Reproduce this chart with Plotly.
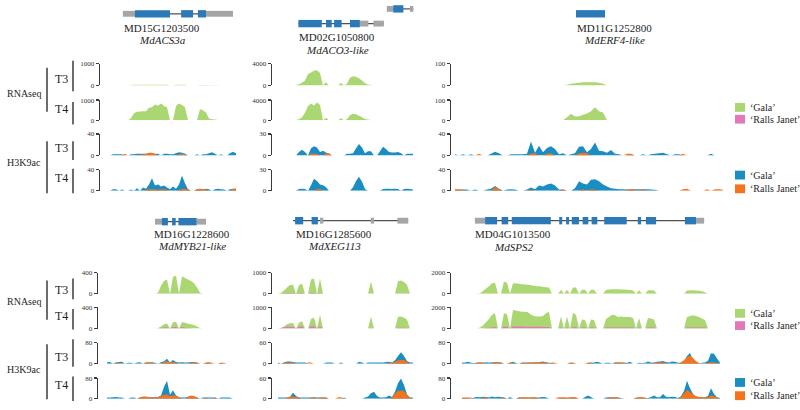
import plotly.graph_objects as go

W, H = 800, 410
SERIF = "'Liberation Serif', 'Times New Roman', Times, serif"
GREEN, PINK = "#abd772", "#e278b8"
BLUE, ORANGE = "#1a8ec2", "#f7731b"
CDS_BLUE, UTR_GRAY, INTRON_GRAY = "#2b79b7", "#a5a5a5", "#505050"
INK = "#1e1e1e"

# ===================== DATA (coverage per equal-width genomic bin) =====================
# ---- MD15G1203500  MdACS3a ----
acs_rna_t3_gala = [0,0,0,0,0,0,0,5,25,25,25,25,25,25,28,30,30,30,28,25,0,0,25,25,25,25,0,0,0,0,20,20,20,15,10,8,5,0,0,0,0,0,0]
acs_rna_t4_gala = [0,0,0,0,0,0,0,100,350,420,430,440,450,620,650,780,720,830,700,650,0,0,700,830,760,650,0,0,0,0,560,500,380,80,50,30,10,0,0,0,0,0,0]
acs_h3_t3_gala = [0,2.5,2.5,2.5,2.5,0,0,2.5,2.5,3,3,3,3,3,3,3,3,0,3,3,2.5,2.5,4,6,5,3,0,0,0,2.5,0,2.5,2.5,4,6,3,0,2.5,0,0,4,7,4]
acs_h3_t3_rj = [0,0,0,0,0,3,0,0,0,0,2,2,3,5,5,3,0,0,0,0,0,0,0,2,3,2,0,0,0,0,0,0,0,0,0,0,0,0,0,0,0,0,0]
acs_h3_t4_gala = [0,3,3,0,2.5,0,0,2.5,0,5,0,6,4,12,24,10,12,8,10,6,3,8,4,12,29,14,3,0,0,3,4,3,4,3,0,3,4,3,2.5,0,3,4,3]
acs_h3_t4_rj = [0,0,0,0,0,0,0,0,0,0,0,0,2,3,3,3,2,3,3,2,0,0,0,2,3,4,3,0,0,3,4,3,3,0,0,0,0,0,0,0,0,4,5]
acs_exon_start = [4.3, 8.3, 23.7, 29.3, 32.0]
acs_exon_end = [8.3, 20.0, 27.7, 32.0, 41.0]
acs_exon_kind = ["utr", "cds", "cds", "cds", "utr"]

# ---- MD02G1050800  MdACO3-like ----
aco_rna_t3_gala = [50,200,500,900,2100,2400,2700,2800,2300,0,600,0,0,0,0,500,0,300,1400,1700,1600,1300,900,400,150,60,0,0,0,0,0,0,0,0,0,0,0,0,0,0]
aco_rna_t4_gala = [50,200,600,1500,2800,3300,2900,3500,3000,0,500,0,0,0,0,400,0,200,1000,1300,1200,900,600,250,120,50,0,0,0,0,0,0,0,0,0,0,0,0,0,0]
aco_h3_t3_gala = [0,5,8,5,0,10,13,11,5,6.5,4,2.5,0,0,0,0,0,2.5,2.5,3,10,16,11,3,6,6,0,0,6,12,9,5,4,4,5,3,0,2.5,2.5,2.5]
aco_h3_t3_rj = [0,0,0,0,0,2.5,2.5,2.5,0,0,3,3,0,0,0,0,0,0,0,0,0,0,0,0,0,0,0,0,0,0,0,0,0,0,0,0,0,0,0,0]
aco_h3_t4_gala = [0,2.5,3,2.5,0,8,17,14,9,8,5,0,0,0,0,0,0,0,0,5,14,20,13,2.5,0,0,0,0,0,2.5,3,3,2.5,3,2.5,0,2.5,3,2.5,2]
aco_h3_t4_rj = [0,0,0,0,0,0,0,2.5,2.5,0,0,0,0,0,0,0,0,0,0,0,0,0,0,0,0,0,0,0,0,0,0,0,0,0,0,0,0,0,0,0]
aco_exon_start = [0.8, 10.0, 12.7, 18.0, 21.3, 25.8]
aco_exon_end = [8.6, 11.9, 15.2, 21.3, 24.1, 29.3]
aco_exon_kind = ["cds", "cds", "cds", "cds", "utr", "utr"]
aco2_exon_start = [30.3, 32.4, 38.0]
aco2_exon_end = [32.4, 35.8, 39.1]
aco2_exon_kind = ["utr", "cds", "utr"]

# ---- MD11G1252800  MdERF4-like ----
erf_rna_t3_gala = [0,0,0,0,0,0,0,0,0,0,0,0,0,0,0,0,0,0,0,0,0,0,0,0,0,0,0,0,
                   3,7,10,12,14,15,15,14,12,7,0,0,
                   0,0,0,0,0,0,0,0,0,0,0,0,0,0,0,0,0,0,0,0,0,0,0,0,0,0,0,0]
erf_rna_t4_gala = [0,0,0,0,0,0,0,0,0,0,0,0,0,0,0,0,0,0,0,0,0,0,0,0,0,0,0,0,
                   15,32,18,20,27,33,45,65,45,38,0,0,
                   0,0,0,0,0,0,0,0,0,0,0,0,0,0,0,0,0,0,0,0,0,0,0,0,0,0,0,0]
erf_h3_t3_gala = [2.5,0,2.5,0,2.5,0,0,0,0,3, 7,4,0,0,2.5,2.5,2.5,2.5,3,26, 5,18,6,14,17,12,2.5,4,0,2.5,
                  4,16,17,6,12,24,9,8,5,10, 3,2.5,0,0,2.5,0,0,2.5,0,2.5, 3,4,5,2.5,0,2.5,2.5,0,0,0, 0,0,0,0,3,0,0,0]
erf_h3_t3_rj = [0,0,0,0,0,0,3,0,0,0, 0,0,0,0,0,0,0,0,0,3, 4,0,0,3,4,0,0,0,0,0,
                0,4,5,4,0,0,0,0,0,0, 0,0,0,3,3,0,0,0,0,0, 0,0,0,0,0,0,0,3,0,0, 0,0,0,0,0,0,0,0]
erf_h3_t4_gala = [2,2,2.5,2.5,0,2.5,0,0,2.5,4, 9,4,0,2.5,3,2.5,0,0,2.5,6, 3,10,8,12,14,10,2.5,2.5,0,0,
                  5,18,14,12,21,22,18,12,8,5, 4,3,3,2.5,3,3,3,3,3,2.5, 2,0,0,0,0,0,0,0,0,0, 0,0,0,0,0,0,0,0]
erf_h3_t4_rj = [3,3,2,0,0,0,0,0,0,0, 7,3,0,0,0,0,0,0,0,2, 0,0,0,0,0,0,0,3,0,0,
                0,0,3,0,3,2,0,0,0,0, 0,0,0,2,3,2,0,3,0,0, 0,0,0,0,0,0,0,3,4,0, 0,0,0,3,0,3,3,2]
erf_exon_start = [30.25]
erf_exon_end = [37.5]
erf_exon_kind = ["cds"]

# ---- MD16G1228600  MdMYB21-like ----
myb_rna_t3_gala = [0,0,0,0,0,0,0,0,0,0,0,0,0,0,0,0,0,20,150,240,270,0,320,340,0,330,300,270,240,200,120,20,0,0,0,0,0,0,0,0,0,0,0]
myb_rna_t4_gala = [0,0,0,0,0,0,0,0,0,0,0,0,0,0,0,0,0,10,40,80,95,0,120,130,0,125,110,90,80,65,40,10,0,0,0,0,0,0,0,0,0,0,0]
myb_rna_t4_rj = [0,0,0,0,0,0,0,0,0,0,0,0,0,0,0,0,0,0,10,20,25,0,30,30,0,30,15,10,5,0,0,0,0,0,0,0,0,0,0,0,0,0,0]
myb_h3_t3_gala = [6,7,0,5,7,8,0,4,4,0,5,6,0,5,5,6,4,0,6,10,19,5,15,7,5,6,5,5,7,7,5,0,0,4,4,0,0,0,4,0,0,0,0]
myb_h3_t3_rj = [0,0,0,5,4,0,0,0,0,0,0,0,0,6,6,5,0,0,0,8,11,6,7,5,0,0,0,0,5,6,4,0,0,5,6,4,0,0,4,4,0,0,0]
myb_h3_t4_gala = [4,4,5,6,4,4,0,0,4,4,0,4,5,5,4,5,5,6,12,45,70,15,33,12,5,4,4,6,10,8,4,0,4,4,4,4,4,0,4,4,4,4,0]
myb_h3_t4_rj = [0,0,0,0,0,0,0,0,0,0,0,5,8,8,6,4,4,5,10,15,16,10,12,12,5,0,0,8,12,10,4,0,0,4,0,0,4,0,0,0,0,0,0]
myb_exon_start = [16.0, 18.3, 21.7, 23.8, 29.9]
myb_exon_end = [18.3, 20.3, 22.9, 29.9, 33.0]
myb_exon_kind = ["utr", "cds", "cds", "cds", "utr"]

# ---- MD16G1285600  MdXEG113 ----
xeg_rna_t3_gala = [0,50,150,300,420,430,0,400,480,0,0,680,720,0,720,0,
                   0,0,0,0,0,0,0,0,0,0,0,0,0,0,0, 580,0, 0,0,0,0,0,0,0, 600,630,560,430,0,0]
xeg_rna_t3_rj = [0,0,20,30,40,40,0,30,30,0,0,40,40,0,30,0,
                 0,0,0,0,0,0,0,0,0,0,0,0,0,0,0, 0,0, 0,0,0,0,0,0,0, 0,0,0,0,0,0]
xeg_rna_t4_gala = [0,30,100,200,250,260,0,280,350,0,0,450,520,0,650,0,
                   0,0,0,0,0,0,0,0,0,0,0,0,0,0,0, 570,0, 0,0,0,0,0,0,0, 560,570,520,420,0,0]
xeg_rna_t4_rj = [0,20,60,80,90,90,0,90,100,0,0,110,110,0,100,0,
                 0,0,0,0,0,0,0,0,0,0,0,0,0,0,0, 30,0, 0,0,0,0,0,0,0, 40,40,40,30,0,0]
xeg_h3_t3_gala = [3.5,0,4,7,7,5,4,3.5,4,3.5,0,0,0,0,0,0,3.5,4,3.5,0,0,3.5,0,0,0,0,0,6,3.5,0,4,4,4,4,4,4,5,6,4,10,22,33,22,8,3.5,3.5]
xeg_h3_t3_rj = [0,0,3.5,3.5,3.5,3.5,0,0,0,0,3.5,3.5, 0,0,0,0,0,0,0,0,0,0,0,0,0,0,0,0,0,0,0,0,0,0,0,0,0, 3.5,3.5,6,10,11,11,6,0,0]
xeg_h3_t4_gala = [3,3.5,3.5,3.5,5,17,8,3.5,3.5,3.5,3,3.5,4,3.5,3,3,3,0,0,0,0,0,3,0,0,0,0,0,0,3,6,16,20,8,3.5,3,4,9,5,20,45,59,40,12,3.5,3]
xeg_h3_t4_rj = [0,0,0,3.5,6,6,5,3.5,0,0,0,3.5,3.5,0,3.5,3.5,3.5,0,0,0,4,4, 0,0,0,0,0,0,0,0,0,0,0,0,0,0,0,0, 4,15,22,24,22,10,3,0]
xeg_exon_start = [5.7, 11.2, 14.0, 30.9, 39.8]
xeg_exon_end = [8.4, 13.3, 15.1, 32.0, 43.4]
xeg_exon_kind = ["cds", "cds", "utr", "utr", "utr"]
xeg_span = [5.0, 43.4]

# ---- MD04G1013500  MdSPS2 ----
sps_rna_t3_gala = [0,0,0,0,0,0, 50,250,500,700,1000,1050, 0,0, 1150,1050, 0,
                   1000,980,950,900,880,850,800,760,720,700,650,620,600, 0,0,0, 380, 0, 380, 0, 600,580, 0,
                   380,380, 0, 380,370, 0,0,0, 350,400,420,420,420,400,400,380,360,300, 0, 320, 0,0, 320,320,300,
                   0,0,0,0,0,0,0,0,0,0, 300,320,320,300,280,230,150, 0,0,0,0,0]
sps_rna_t4_gala = [0,0,0,0,0,0, 100,300,600,900,1300,1450, 0,0, 1450,1350, 0,
                   1750,1700,1650,1600,1600,1550,1300,1200,1150,1150,1200,1450,1600, 0,0,0, 1150, 0, 1150, 0, 1500,1300, 0,
                   850,800, 0, 850,800, 0,0,0, 900,1100,1300,1250,1100,1150,1100,1100,1100,1000, 0, 1000, 0,0, 1000,950,850,
                   0,0,0,0,0,0,0,0,0,0, 1100,1200,1250,1200,1100,950,800, 0,0,0,0,0]
sps_rna_t4_rj = [0,0,0,0,0,0, 0,0,50,80,100,150, 0,0, 180,180, 0,
                 200,200,190,190,180,180,170,170,160,160,150,150,150, 0,0,0, 100, 0, 100, 0, 120,120, 0,
                 100,100, 0, 100,100, 0,0,0, 110,110,110,110,110,110,110,110,110,110, 0, 100, 0,0, 100,100,100,
                 0,0,0,0,0,0,0,0,0,0, 100,100,100,100,100,100,100, 0,0,0,0,0]
sps_h3_t3_gala = [4,5,8,4,3,4,5,4,6,5, 5,7,6,5,0,0,4,8,3,0, 5,4,5,5,5,5,7,9,6,4, 3,0,0,0,0,0,3,3,0,0,
                  0,0,3,4,5,8,5,0,4,4, 0,5,5,5,4,4,8,0,0,4, 3,4,9,5,4,8,9,11,7,5, 9,8,4,4,10,30,41,15,5,0,
                  4,5,12,40,38,20,4]
sps_h3_t3_rj = [4,0,0,0,0,5,6,5,0,0, 5,6,6,5,0,0,5,4,0,0, 4,5,4,5,6,6,6,6,5,0, 5,4,0,0,0,0,5,5,0,0,
                0,0,5,5,0,0,0,0,0,0, 0,5,5,5,5,0,0,0,0,0, 0,0,0,0,5,5,6,5,5,0, 0,0,0,6,14,25,32,22,10,4,
                0,0,4,6,6,4,0]
sps_h3_t4_gala = [3,3,3,0,4,6,5,7,6,4, 8,5,7,6,4,0,6,0,0,4, 4,4,3,4,4,3,5,6,5,0, 0,0,0,3,3,3,3,3,3,0,
                  0,6,12,6,0,0,0,0,4,5, 4,5,4,3,0,0,0,0,3,4, 4,3,3,6,12,5,5,18,7,5, 7,6,3,9,30,70,40,18,6,5,
                  4,5,10,40,18,5,3]
sps_h3_t4_rj = [4,4,4,4,0,0,0,4,4,0, 0,0,0,0,4,0,0,0,0,5, 4,5,5,4,5,5,0,0,0,0, 0,0,5,5,5,4,5,6,5,0,
                0,0,0,0,0,0,0,0,0,4, 5,5,4,0,0,0,0,0,4,5, 5,4,0,0,0,0,0,0,0,0, 0,0,0,8,20,34,26,16,10,6,
                5,5,6,12,10,5,0]
sps_exon_start = [4.3, 7.7, 13.2, 16.6, 32.4, 34.7, 36.6, 40.2, 43.2, 47.4, 58.6, 61.3, 74.3, 78.0]
sps_exon_end = [7.7, 11.7, 15.4, 29.6, 33.4, 35.7, 39.0, 42.1, 45.1, 54.9, 59.7, 64.7, 78.0, 80.7]
sps_exon_kind = ["utr"] + ["cds"] * 12 + ["utr"]

rna_ticks = {"acs": 1000, "aco": 4000, "erf": 100, "myb": 400, "xeg": 1000, "sps": 2000}
h3_ticks = {"acs": 40, "aco": 30, "erf": 40, "myb": 80, "xeg": 60, "sps": 80}

loci = [
    dict(key="acs", gid="MD15G1203500", name="MdACS3a",
         tracks=[(acs_rna_t3_gala, None), (acs_rna_t4_gala, None), (acs_h3_t3_gala, acs_h3_t3_rj), (acs_h3_t4_gala, acs_h3_t4_rj)],
         models=[(acs_exon_start, acs_exon_end, acs_exon_kind, None)]),
    dict(key="aco", gid="MD02G1050800", name="MdACO3-like",
         tracks=[(aco_rna_t3_gala, None), (aco_rna_t4_gala, None), (aco_h3_t3_gala, aco_h3_t3_rj), (aco_h3_t4_gala, aco_h3_t4_rj)],
         models=[(aco_exon_start, aco_exon_end, aco_exon_kind, None), (aco2_exon_start, aco2_exon_end, aco2_exon_kind, None)]),
    dict(key="erf", gid="MD11G1252800", name="MdERF4-like",
         tracks=[(erf_rna_t3_gala, None), (erf_rna_t4_gala, None), (erf_h3_t3_gala, erf_h3_t3_rj), (erf_h3_t4_gala, erf_h3_t4_rj)],
         models=[(erf_exon_start, erf_exon_end, erf_exon_kind, None)]),
    dict(key="myb", gid="MD16G1228600", name="MdMYB21-like",
         tracks=[(myb_rna_t3_gala, None), (myb_rna_t4_gala, myb_rna_t4_rj), (myb_h3_t3_gala, myb_h3_t3_rj), (myb_h3_t4_gala, myb_h3_t4_rj)],
         models=[(myb_exon_start, myb_exon_end, myb_exon_kind, None)]),
    dict(key="xeg", gid="MD16G1285600", name="MdXEG113",
         tracks=[(xeg_rna_t3_gala, xeg_rna_t3_rj), (xeg_rna_t4_gala, xeg_rna_t4_rj), (xeg_h3_t3_gala, xeg_h3_t3_rj), (xeg_h3_t4_gala, xeg_h3_t4_rj)],
         models=[(xeg_exon_start, xeg_exon_end, xeg_exon_kind, xeg_span)]),
    dict(key="sps", gid="MD04G1013500", name="MdSPS2",
         tracks=[(sps_rna_t3_gala, None), (sps_rna_t4_gala, sps_rna_t4_rj), (sps_h3_t3_gala, sps_h3_t3_rj), (sps_h3_t4_gala, sps_h3_t4_rj)],
         models=[(sps_exon_start, sps_exon_end, sps_exon_kind, None)]),
]

# ===================== LAYOUT (pixels) =====================
TOP_ROWS = [(61, 83), (98, 118.5), (132.5, 154.5), (169, 190.5)]
BOT_ROWS = [(274, 295.5), (309.5, 331), (345.5, 367), (381.5, 402.5)]
geom = {
    "acs": dict(axis=100, right=240, start=110, step=3, rows=TOP_ROWS, gene_y=[10, None], lab=(162, 24.5, 37)),
    "aco": dict(axis=272, right=416, start=296, step=3, rows=TOP_ROWS, gene_y=[20, 5], lab=(337, 34, 47)),
    "erf": dict(axis=451, right=725, start=455, step=4, rows=TOP_ROWS, gene_y=[10, None], lab=(614, 24.5, 37)),
    "myb": dict(axis=98, right=236, start=107, step=3, rows=BOT_ROWS, gene_y=[222, None], lab=(192, 234.5, 247)),
    "xeg": dict(axis=272, right=416, start=278, step=3, rows=BOT_ROWS, gene_y=[221, None], lab=(334, 234.5, 247)),
    "sps": dict(axis=451, right=723, start=462, step=3, rows=BOT_ROWS, gene_y=[221, None], lab=(513, 235, 247.5)),
}

def px(x):
    return x / W

def py(y):
    return 1 - y / H

fig = go.Figure()
layout = {}
shapes = []
annotations = []
n = 0
for locus in loci:
    g = geom[locus["key"]]
    first_x = None
    for ti, ((main, other), (top, zero)) in enumerate(zip(locus["tracks"], g["rows"])):
        n += 1
        xa = "x" if n == 1 else f"x{n}"
        ya = "y" if n == 1 else f"y{n}"
        if first_x is None:
            first_x = xa
        is_rna = ti < 2
        ymax = rna_ticks[locus["key"]] if is_rna else h3_ticks[locus["key"]]
        c1, c2 = (GREEN, PINK) if is_rna else (BLUE, ORANGE)
        layout["xaxis" + ("" if n == 1 else str(n))] = dict(
            domain=[px(g["axis"]), px(g["right"])],
            range=[(g["axis"] - g["start"]) / g["step"], (g["right"] - g["start"]) / g["step"]],
            visible=False, anchor=ya, fixedrange=True)
        layout["yaxis" + ("" if n == 1 else str(n))] = dict(
            domain=[py(zero), py(top)], range=[0, ymax], anchor=xa,
            showline=True, linecolor="#3a3a3a", linewidth=1.3,
            ticks="outside", ticklen=3, tickwidth=1.2, tickcolor="#3a3a3a",
            tickvals=[0, ymax], ticktext=["0", str(ymax)],
            tickfont=dict(family=SERIF, size=7, color="#333333"),
            showgrid=False, zeroline=False, fixedrange=True)
        for vals, col in ((main, c1), (other, c2)):
            if vals is None:
                continue
            fig.add_trace(go.Scatter(
                x=list(range(len(vals))), y=vals, mode="none",
                fill="tozeroy", fillcolor=col,
                xaxis=xa, yaxis=ya, hoverinfo="skip", showlegend=False))
    # gene models
    for (starts, ends, kinds, span), gy in zip(locus["models"], g["gene_y"]):
        lo, hi = (span if span is not None else (min(starts), max(ends)))
        shapes.append(dict(type="line", xref=first_x, yref="paper", x0=lo, x1=hi,
                           y0=py(gy), y1=py(gy), line=dict(color=INTRON_GRAY, width=1.2), layer="above"))
        for s, e, k in zip(starts, ends, kinds):
            h = 7.5 if k == "cds" else 6
            shapes.append(dict(type="rect", xref=first_x, yref="paper", x0=s, x1=e,
                               y0=py(gy + h / 2), y1=py(gy - h / 2),
                               fillcolor=CDS_BLUE if k == "cds" else UTR_GRAY,
                               line=dict(width=0), layer="above"))
    lx, ly1, ly2 = g["lab"]
    annotations.append(dict(x=px(lx), y=py(ly1), xref="paper", yref="paper", text=locus["gid"],
                            showarrow=False, xanchor="center", yanchor="middle",
                            font=dict(family=SERIF, size=11, color=INK)))
    annotations.append(dict(x=px(lx), y=py(ly2), xref="paper", yref="paper", text=f"<i>{locus['name']}</i>",
                            showarrow=False, xanchor="center", yanchor="middle",
                            font=dict(family=SERIF, size=11, color=INK)))

# left-side track labels
left_groups = [
    ("RNAseq", 91, 65, 110, [("T3", 76, 58, 89), ("T4", 107, 100, 123)]),
    ("H3K9ac", 162, 140, 193, [("T3", 147, 140, 159), ("T4", 177, 168, 193)]),
    ("RNAseq", 303, 282, 322, [("T3", 292, 280, 301), ("T4", 318, 311, 332)]),
    ("H3K9ac", 373, 347, 403, [("T3", 360, 342, 370), ("T4", 389, 380, 405)]),
]
for lab, ly, b0, b1, subs in left_groups:
    annotations.append(dict(x=px(24), y=py(ly), xref="paper", yref="paper", text=lab, showarrow=False,
                            xanchor="center", yanchor="middle", font=dict(family=SERIF, size=10, color=INK)))
    shapes.append(dict(type="line", xref="paper", yref="paper", x0=px(47), x1=px(47), y0=py(b0), y1=py(b1),
                       line=dict(color=INK, width=1.3)))
    for t, ty, s0, s1 in subs:
        annotations.append(dict(x=px(61), y=py(ty), xref="paper", yref="paper", text=t, showarrow=False,
                                xanchor="center", yanchor="middle", font=dict(family=SERIF, size=12, color=INK)))
        shapes.append(dict(type="line", xref="paper", yref="paper", x0=px(73), x1=px(73), y0=py(s0), y1=py(s1),
                           line=dict(color=INK, width=1.3)))

# legends
legend_items = [
    (GREEN, "‘Gala’", 105.5), (PINK, "‘Ralls Janet’", 117.5),
    (BLUE, "‘Gala’", 174.5), (ORANGE, "‘Ralls Janet’", 188.5),
    (GREEN, "‘Gala’", 315.5), (PINK, "‘Ralls Janet’", 328),
    (BLUE, "‘Gala’", 386), (ORANGE, "‘Ralls Janet’", 399.5),
]
for col, txt, yc in legend_items:
    shapes.append(dict(type="rect", xref="paper", yref="paper", x0=px(735), x1=px(745),
                       y0=py(yc + 4.5), y1=py(yc - 4.5), fillcolor=col, line=dict(width=0)))
    annotations.append(dict(x=px(748), y=py(yc), xref="paper", yref="paper", text=txt, showarrow=False,
                            xanchor="left", yanchor="middle", font=dict(family=SERIF, size=10, color=INK)))

fig.update_layout(**layout)
fig.update_layout(width=W, height=H, margin=dict(l=0, r=0, t=0, b=0),
                  paper_bgcolor="white", plot_bgcolor="rgba(0,0,0,0)",
                  font=dict(family=SERIF),
                  shapes=shapes, annotations=annotations, showlegend=False)
fig.write_html("out.html", config={"displayModeBar": False, "staticPlot": True},
               post_script="document.body.style.margin='0';")
